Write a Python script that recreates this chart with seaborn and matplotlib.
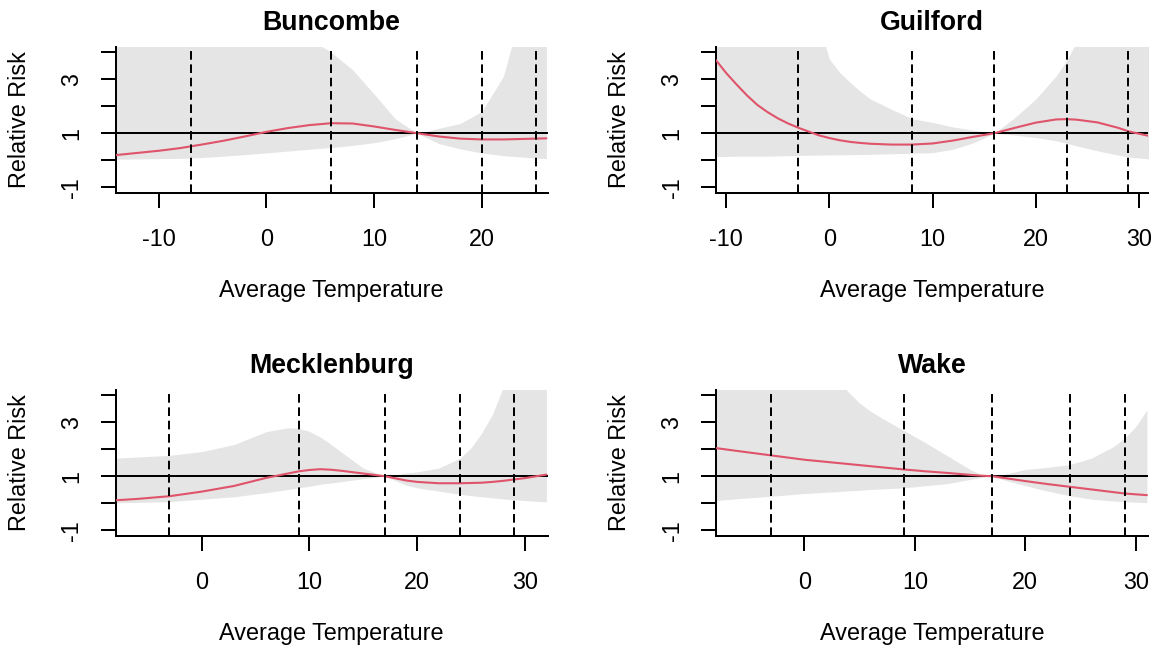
import numpy as np
import pandas as pd
import seaborn as sns
import matplotlib.pyplot as plt

# county names and panel order
counties = ["Buncombe", "Guilford", "Mecklenburg", "Wake"]

# Buncombe
buncombe_temp = [-14, -12, -10, -8, -6, -4, -2, 0, 2, 4, 6, 8, 10, 12, 14, 16, 18, 20, 22, 24, 26]
buncombe_rr = [0.19, 0.27, 0.35, 0.45, 0.58, 0.72, 0.88, 1.05, 1.19, 1.30, 1.37, 1.36, 1.25, 1.12, 1.00, 0.88, 0.80, 0.77, 0.77, 0.79, 0.81]
buncombe_low = [0.04, 0.05, 0.06, 0.07, 0.10, 0.15, 0.21, 0.27, 0.34, 0.41, 0.47, 0.55, 0.65, 0.80, 1.00, 0.62, 0.42, 0.27, 0.17, 0.11, 0.06]
buncombe_high = [6, 6, 6, 6, 6, 6, 6, 6, 5.0, 4.5, 4.0, 3.35, 2.45, 1.52, 1.00, 1.18, 1.36, 1.80, 3.10, 6, 6]
buncombe_knots = [-7, 6, 14, 20, 25]

# Guilford
guilford_temp = [-11, -10, -9, -8, -7, -6, -5, -4, -3, -1, 0, 1, 2, 3, 4, 6, 8, 10, 12, 14, 16, 18, 20, 22, 23, 24, 26, 28, 29, 31]
guilford_rr = [3.70, 3.22, 2.80, 2.40, 2.05, 1.78, 1.55, 1.36, 1.20, 0.92, 0.82, 0.74, 0.68, 0.64, 0.61, 0.58, 0.58, 0.62, 0.73, 0.87, 1.00, 1.20, 1.39, 1.51, 1.52, 1.50, 1.40, 1.20, 1.07, 0.90]
guilford_low = [0.14, 0.14, 0.15, 0.15, 0.15, 0.15, 0.16, 0.17, 0.18, 0.19, 0.20, 0.20, 0.21, 0.21, 0.22, 0.24, 0.26, 0.28, 0.41, 0.65, 1.00, 0.93, 0.84, 0.72, 0.63, 0.53, 0.35, 0.19, 0.12, 0.05]
guilford_high = [6, 6, 6, 6, 6, 6, 6, 6, 6, 5.0, 3.74, 3.25, 2.88, 2.55, 2.26, 1.89, 1.54, 1.40, 1.23, 1.11, 1.00, 1.58, 2.26, 3.12, 3.68, 4.40, 6, 6, 6, 6]
guilford_knots = [-3, 8, 16, 23, 29]

# Mecklenburg
mecklenburg_temp = [-8, -6, -3, 0, 3, 6, 8, 9, 10, 11, 12, 13, 15, 17, 19, 20, 22, 24, 25, 26, 27, 28, 29, 30, 32]
mecklenburg_rr = [0.11, 0.16, 0.26, 0.43, 0.64, 0.94, 1.10, 1.18, 1.23, 1.26, 1.24, 1.20, 1.10, 1.00, 0.84, 0.79, 0.74, 0.74, 0.75, 0.76, 0.79, 0.83, 0.88, 0.93, 1.06]
mecklenburg_low = [0.02, 0.03, 0.06, 0.15, 0.24, 0.39, 0.51, 0.57, 0.63, 0.70, 0.75, 0.80, 0.91, 1.00, 0.67, 0.57, 0.45, 0.33, 0.28, 0.24, 0.20, 0.16, 0.13, 0.10, 0.05]
mecklenburg_high = [1.67, 1.71, 1.77, 1.91, 2.17, 2.65, 2.79, 2.77, 2.66, 2.45, 2.18, 1.88, 1.30, 1.00, 1.12, 1.16, 1.30, 1.67, 2.05, 2.60, 3.30, 4.30, 6, 6, 6]
mecklenburg_knots = [-3, 9, 17, 24, 29]

# Wake
wake_temp = [-8, -6, -3, 0, 3, 4, 5, 6, 7, 9, 11, 13, 15, 16, 17, 18, 20, 22, 24, 26, 28, 29, 30, 31]
wake_rr = [2.04, 1.93, 1.77, 1.61, 1.49, 1.45, 1.41, 1.37, 1.33, 1.25, 1.18, 1.12, 1.05, 1.02, 1.00, 0.94, 0.82, 0.71, 0.61, 0.51, 0.41, 0.36, 0.33, 0.30]
wake_low = [0.10, 0.17, 0.26, 0.36, 0.43, 0.46, 0.48, 0.51, 0.53, 0.57, 0.65, 0.73, 0.88, 0.95, 1.00, 0.87, 0.65, 0.45, 0.28, 0.15, 0.08, 0.06, 0.04, 0.02]
wake_high = [6, 6, 6, 6, 4.60, 4.10, 3.70, 3.40, 3.15, 2.69, 2.23, 1.74, 1.25, 1.06, 1.00, 1.06, 1.25, 1.33, 1.43, 1.67, 2.10, 2.41, 2.84, 3.45]
wake_knots = [-3, 9, 17, 24, 29]

x_limits = [(-14, 26.1), (-11, 30.9), (-8, 32.1), (-8, 31.1)]
y_ticks = [-1, 0, 1, 2, 3, 4]
y_ticklabels = ["-1", "", "1", "", "3", ""]

panels = [
    (buncombe_temp, buncombe_rr, buncombe_low, buncombe_high, buncombe_knots),
    (guilford_temp, guilford_rr, guilford_low, guilford_high, guilford_knots),
    (mecklenburg_temp, mecklenburg_rr, mecklenburg_low, mecklenburg_high, mecklenburg_knots),
    (wake_temp, wake_rr, wake_low, wake_high, wake_knots),
]

sns.set_theme(style="ticks")
plt.rcParams["font.family"] = ["Liberation Sans", "DejaVu Sans"]
plt.rcParams["lines.scale_dashes"] = False
plt.rcParams["axes.unicode_minus"] = False
for key in ["text.color", "axes.labelcolor", "xtick.color", "ytick.color", "axes.edgecolor"]:
    plt.rcParams[key] = "black"

W, H = 1156, 652
fig = plt.figure(figsize=(W / 100, H / 100), dpi=100)

# plot regions in pixels (left, top)
corners = [(115.5, 46.7), (716, 46.7), (115.5, 389.7), (716, 389.7)]
pw, ph = 432, 146

lw = 1.44
fs = 16.8
for name, (left, top), (temp, rr, low, high, knots), xlim in zip(counties, corners, panels, x_limits):
    ax = fig.add_axes([left / W, (H - top - ph) / H, pw / W, ph / H])
    df = pd.DataFrame({"temp": temp, "rr": rr, "low": low, "high": high})

    ax.fill_between(df["temp"], df["low"], df["high"], color="#e5e5e5", lw=0, zorder=1)
    ax.axhline(1, color="black", lw=lw, zorder=2)
    sns.lineplot(data=df, x="temp", y="rr", ax=ax, color="#df536b", lw=1.5, zorder=3)
    for k in knots:
        ax.axvline(k, color="black", lw=lw, linestyle=(0, (6.2, 3.4)), zorder=4)

    ax.set_xlim(*xlim)
    ax.set_ylim(-1.2, 4.2)
    ax.set_xticks([t for t in range(-10, 40, 10) if xlim[0] <= t <= xlim[1]])
    ax.set_yticks(y_ticks)
    ax.set_yticklabels(y_ticklabels, rotation=90, va="center")

    ax.tick_params(axis="both", length=10.8, width=lw, color="black", labelsize=fs)
    ax.tick_params(axis="x", pad=14.5)
    ax.tick_params(axis="y", pad=12.5)
    for s in ["left", "bottom"]:
        ax.spines[s].set_linewidth(lw)
    sns.despine(ax=ax)

    ax.set_xlabel("Average Temperature", fontsize=fs, labelpad=20)
    ax.set_ylabel("Relative Risk", fontsize=fs, labelpad=21)
    ax.set_title(name, fontsize=19.3, fontweight="bold", pad=12)

fig.savefig("out.png", dpi=100)
